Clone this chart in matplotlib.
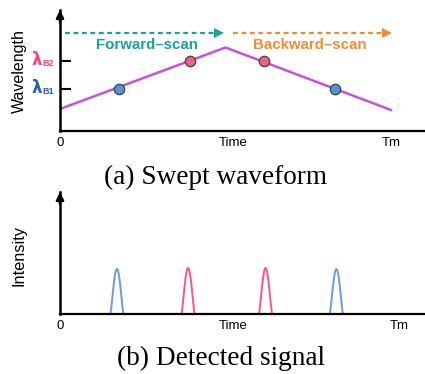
import numpy as np
import matplotlib
matplotlib.use("Agg")
import matplotlib.pyplot as plt

# ---------------- data ----------------
# (a) swept waveform: time normalised to Tm = 1
sweep_t = [0.0, 0.5, 1.0]
sweep_wl = [22, 83.5, 21]          # wavelength (arb. units)
lambda_B1 = 42
lambda_B2 = 70
marker_t = [0.178, 0.393, 0.616, 0.831]
marker_wl = [lambda_B1, lambda_B2, lambda_B2, lambda_B1]
marker_kind = ["B1", "B2", "B2", "B1"]

# (b) detected signal peaks
peak_t = [0.172, 0.387, 0.621, 0.835]
peak_h = [45, 46, 46, 45]
peak_kind = ["B1", "B2", "B2", "B1"]
peak_halfwidth = 0.020

xtick_pos_a = [0.0, 0.523, 1.0]
xtick_pos_b = [0.0, 0.523, 1.024]
xtick_labels = ["0", "Time", "Tm"]

# ---------------- style ----------------
W, H = 425, 374
PURPLE = "#c94fe0"
TEAL = "#17a39b"
ORANGE = "#f58b2e"
BLUE_M = "#5b8fd3"
PINK_M = "#f0607f"
EDGE_M = "#2e4a4a"
PINK_L = "#ff3d8f"
BLUE_L = "#2b5cb8"
BLUE_P = "#6b9be3"
PINK_P = "#ff4f96"
SANS = ["Liberation Sans", "DejaVu Sans"]
SERIF = ["Liberation Serif", "DejaVu Serif"]

plt.rcParams["font.family"] = SANS

fig = plt.figure(figsize=(W / 100, H / 100), dpi=100)


def add_axes_px(left, top, right, bottom):
    return fig.add_axes([left / W, 1 - bottom / H, (right - left) / W, (bottom - top) / H])


PX_PER_T = 331.0
XMAX = (425 - 60) / PX_PER_T


def style_axes(ax, ymax, xticks, tm_tick):
    ax.set_xlim(0, XMAX)
    ax.set_ylim(0, ymax)
    for s in ("top", "right"):
        ax.spines[s].set_visible(False)
    ax.spines["left"].set_linewidth(1.8)
    ax.spines["bottom"].set_linewidth(1.6)
    ax.patch.set_alpha(0)
    ax.set_xticks(xticks)
    ax.set_xticklabels(xtick_labels, fontsize=9.5)
    ax.tick_params(axis="x", which="major", length=0, pad=4)
    ax.set_xticks([tm_tick], minor=True)
    ax.tick_params(axis="x", which="minor", direction="in", length=6, width=1.5)
    ax.annotate("", xy=(0, 1.0), xytext=(0, 0.9), xycoords="axes fraction",
                arrowprops=dict(arrowstyle="-|>", color="black", lw=1.8,
                                mutation_scale=11, shrinkA=0, shrinkB=0))


# ---------------- (a) ----------------
ax1 = add_axes_px(60, 10, 425, 131)
style_axes(ax1, 121, xtick_pos_a, 1.0)
ax1.set_yticks([lambda_B1, lambda_B2])
ax1.set_yticklabels([])
ax1.tick_params(axis="y", direction="in", length=8, width=1.5)

ax1.plot(sweep_t, sweep_wl, color=PURPLE, lw=1.8, zorder=2)
for t, wl, k in zip(marker_t, marker_wl, marker_kind):
    ax1.plot(t, wl, "o", ms=7.5, mfc=BLUE_M if k == "B1" else PINK_M,
             mec=EDGE_M, mew=0.9, zorder=3)

# dashed arrows
arrow_y = 98.3
ax1.plot([0.015, 0.478], [arrow_y, arrow_y], color=TEAL, lw=1.6, dashes=(2.2, 1.6))
ax1.plot([0.479], [arrow_y], marker=">", color=TEAL, ms=6.5, mew=0)
ax1.plot([0.523, 0.987], [arrow_y, arrow_y], color=ORANGE, lw=1.6, dashes=(2.2, 1.6))
ax1.plot([0.988], [arrow_y], marker=">", color=ORANGE, ms=6.5, mew=0)

ax1.text(0.263, 86, "Forward\u2013scan", color=TEAL, fontsize=10.8,
         fontweight="bold", ha="center", va="center")
ax1.text(0.754, 86, "Backward\u2013scan", color=ORANGE, fontsize=10.8,
         fontweight="bold", ha="center", va="center")

for wl, sub, col in [(lambda_B2, "B2", PINK_L), (lambda_B1, "B1", BLUE_L)]:
    ax1.text(-0.071, wl + 1, "\u03bb", color=col, fontsize=12, fontweight="bold",
             ha="center", va="center", family=["DejaVu Sans"])
    ax1.text(-0.036, wl - 2.5, sub, color=col, fontsize=6.5, fontweight="bold",
             ha="center", va="center")

fig.text(19 / W, 1 - 71.5 / H, "Wavelength", rotation=90, fontsize=11.5,
         ha="center", va="center")
fig.text(216 / W, 1 - 177 / H, "(a) Swept waveform", fontsize=19.6,
         family=SERIF, ha="center", va="center")

# ---------------- (b) ----------------
ax2 = add_axes_px(60, 192, 425, 314)
style_axes(ax2, 122, xtick_pos_b, 1.024)
ax2.set_yticks([])

for t0, h, k in zip(peak_t, peak_h, peak_kind):
    tt = np.linspace(t0 - peak_halfwidth, t0 + peak_halfwidth, 60)
    yy = h * np.cos(0.5 * np.pi * (tt - t0) / peak_halfwidth) ** 1.3
    ax2.plot(tt, yy, color=BLUE_P if k == "B1" else PINK_P, lw=1.4)

fig.text(19 / W, 1 - 255 / H, "Intensity", rotation=90, fontsize=11.8,
         ha="center", va="center")
fig.text(221 / W, 1 - 358 / H, "(b) Detected signal", fontsize=19.6,
         family=SERIF, ha="center", va="center")

fig.savefig("out.png", dpi=100)
